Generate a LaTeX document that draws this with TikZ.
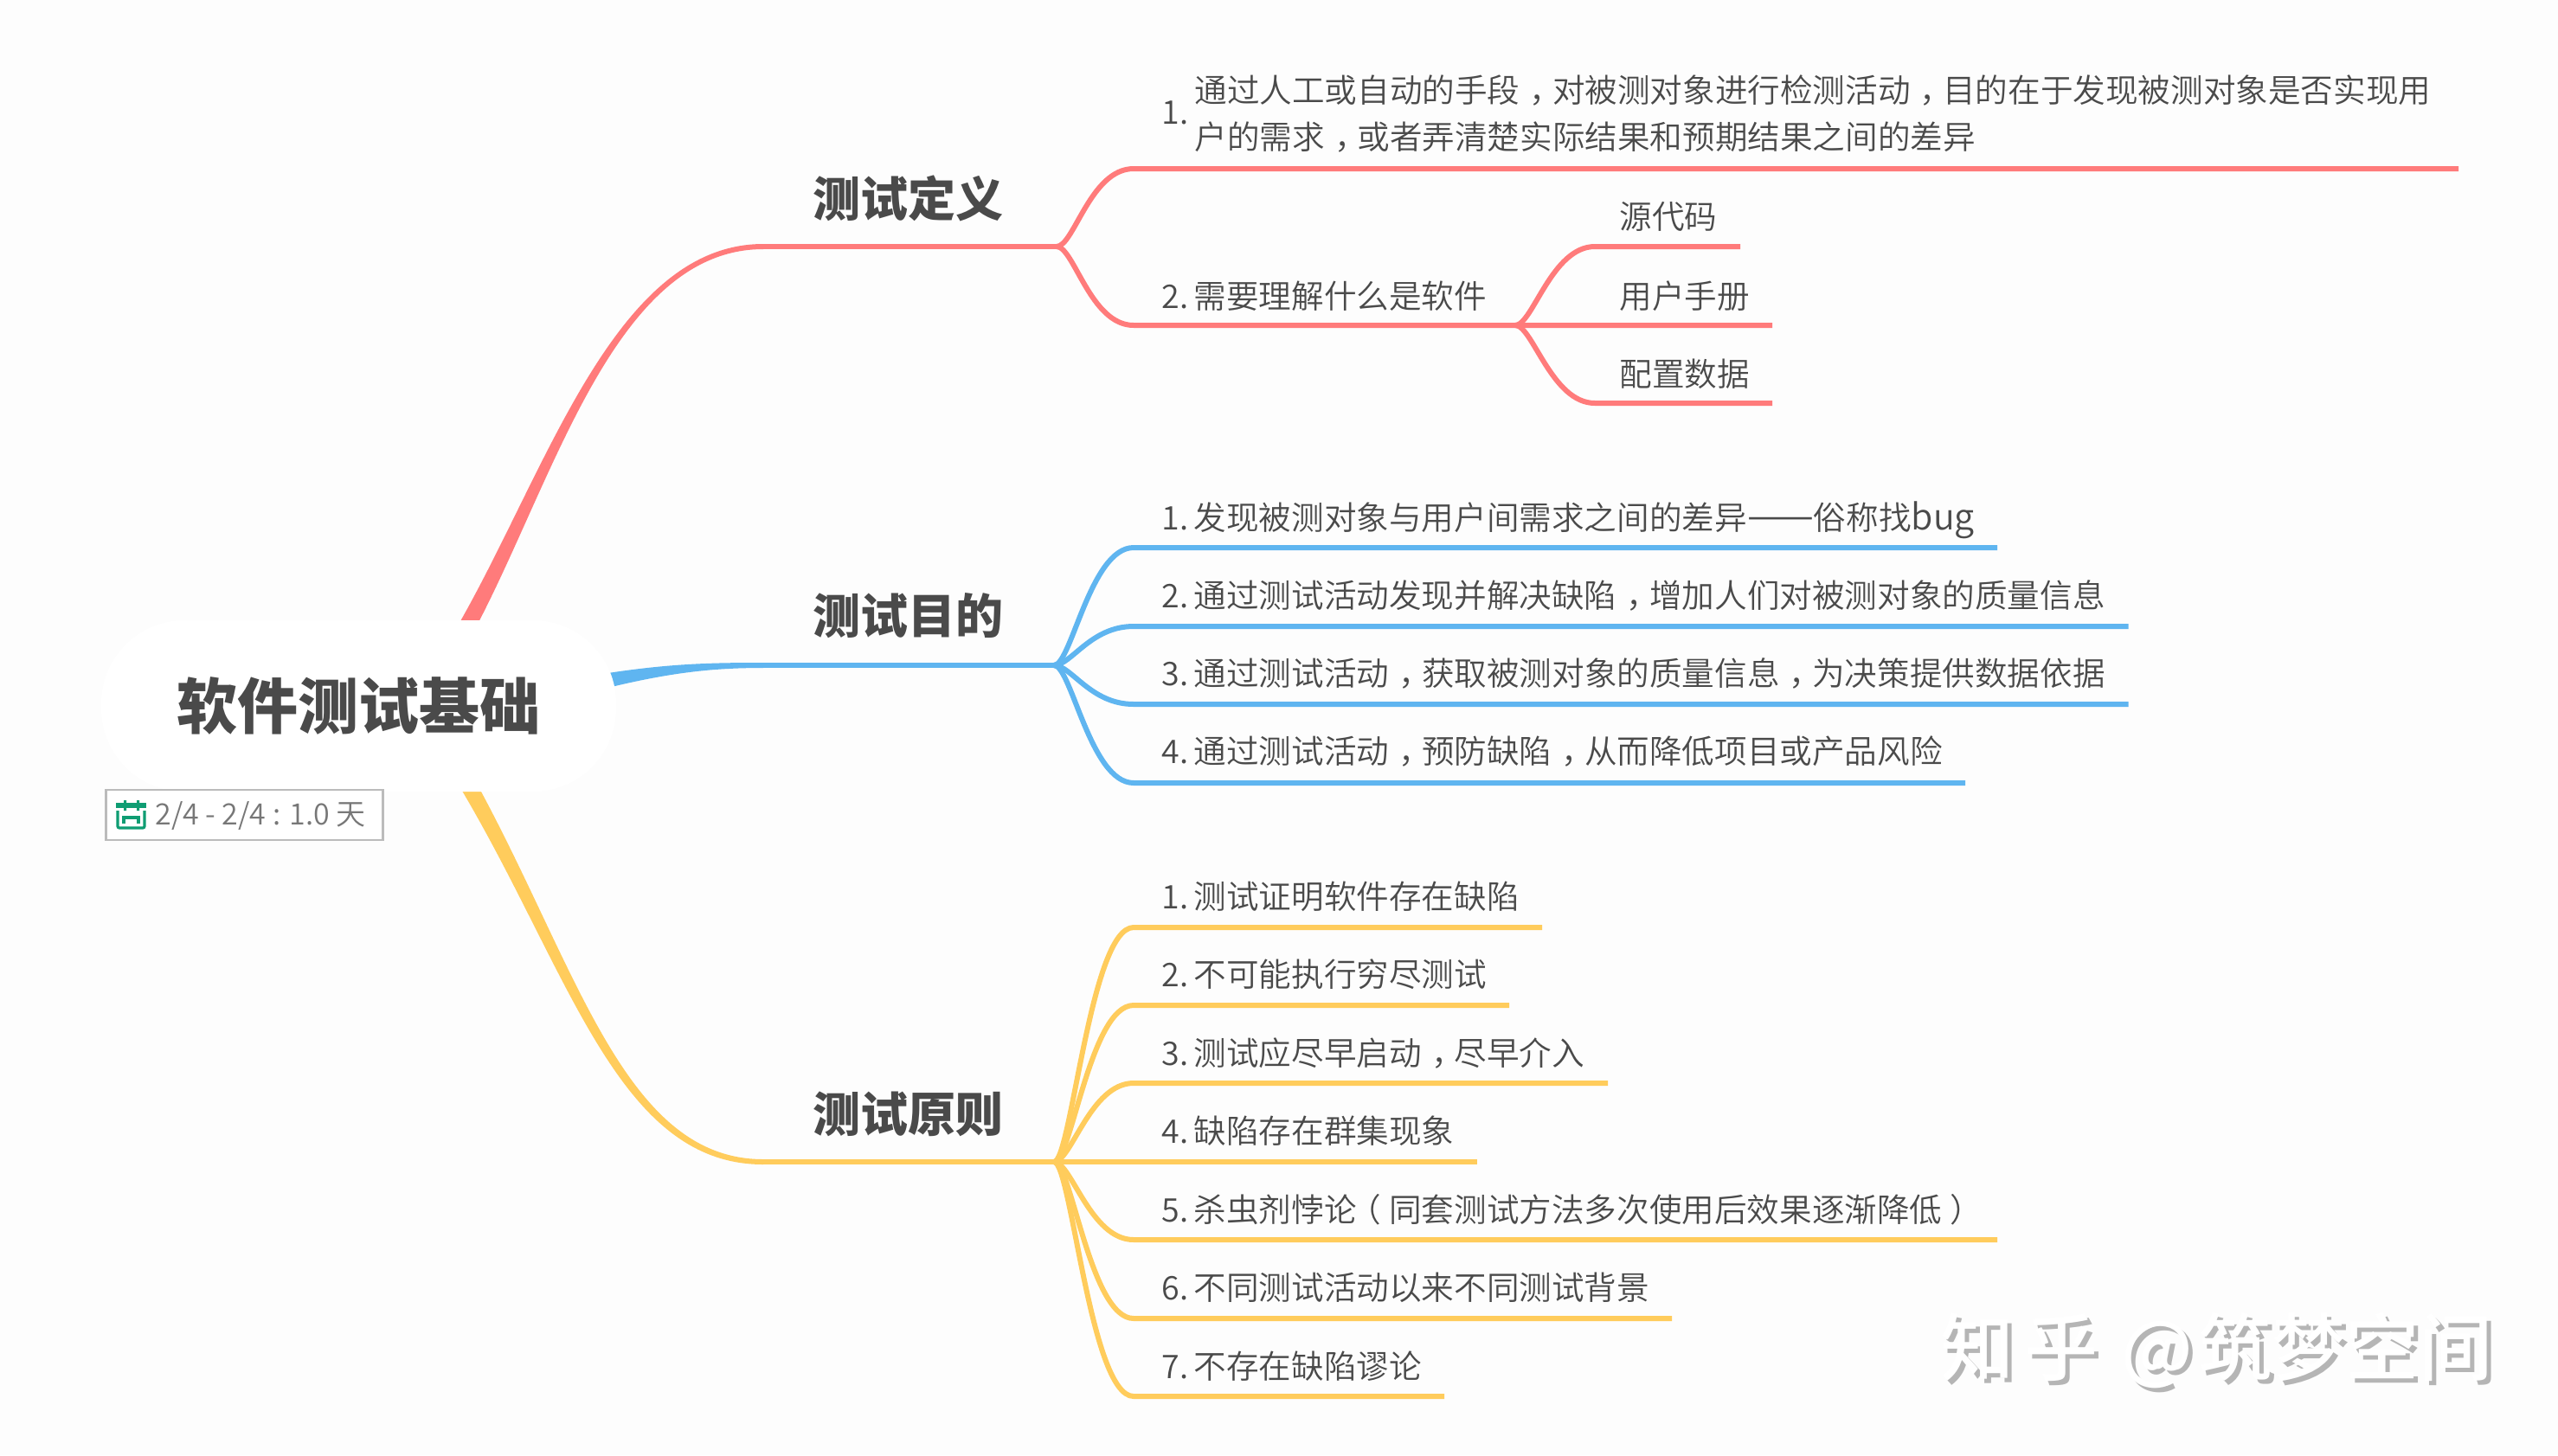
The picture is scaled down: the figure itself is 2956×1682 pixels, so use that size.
\documentclass[tikz,border=0pt]{standalone}
\usepackage{fontspec}
\setmainfont{Noto Sans CJK SC DemiLight}[BoldFont=Noto Sans CJK SC Black]
\newfontfamily\wmfont{Noto Sans CJK SC Medium}
\definecolor{bgc}{HTML}{FDFDFD}
\definecolor{redc}{HTML}{FF7B7B}
\definecolor{bluec}{HTML}{5FB5F0}
\definecolor{yelc}{HTML}{FFCC5C}
\definecolor{txtc}{HTML}{4A4A4A}
\definecolor{grayc}{HTML}{777777}
\definecolor{boxc}{HTML}{BBBBBB}
\definecolor{icoc}{HTML}{0F9D73}
\definecolor{wmc}{HTML}{B5B5B5}
\newcommand{\zhcm}{\makebox[1em][l]{\hspace{.3em}，}}
\newcommand{\zhlp}{\makebox[1em][l]{\hspace{-.25em}（}}
\newcommand{\zhrp}{\makebox[1em][l]{\hspace{.25em}）}}
\newcommand{\nmb}[1]{\makebox[18.7pt][l]{#1}}
% style, hub, name, y, start x, end x
\newcommand{\leafline}[6]{%
  \coordinate (#3s) at (#5,#4);
  \coordinate (#3e) at (#6,#4);
  \draw[#1] (#2) .. controls +(20,0) and +(-50,0) .. (#3s) -- (#3e);}
\tikzset{
  redline/.style={draw=redc,line width=3pt},
  blueline/.style={draw=bluec,line width=3pt},
  yelline/.style={draw=yelc,line width=3pt},
  leaf/.style={anchor=base west,inner sep=0pt,text=txtc,font=\fontsize{18.8}{27}\selectfont},
  head/.style={anchor=base west,inner sep=0pt,text=txtc,font=\fontsize{27.5}{30}\selectfont\bfseries},
  wm/.style={anchor=base west,inner sep=0pt,font=\fontsize{42.5}{50}\selectfont\wmfont}
}
\begin{document}
\begin{tikzpicture}[x=0.5pt,y=-0.5pt]
\useasboundingbox (0,0) rectangle (2956,1682);
\fill[bgc] (0,0) rectangle (2956,1682);
% hubs
\coordinate (hubA) at (1221,285);
\coordinate (hubB) at (1218,769);
\coordinate (hubC) at (1218,1343);
\coordinate (hubD) at (1751,376);
\coordinate (startA) at (882,285);
\coordinate (startB) at (882,769);
\coordinate (startC) at (882,1343);
% main tapered branches
\fill[redc] (528,725) .. controls (632,545) and (710,282) .. (882,282) -- (882,288)
  .. controls (712,288) and (642,550) .. (550,725) -- cycle;
\fill[bluec] (690,780) .. controls (770,767) and (820,766) .. (882,766) -- (882,772)
  .. controls (820,772) and (770,778) .. (690,798) -- cycle;
\fill[yelc] (528,904) .. controls (658,1120) and (712,1346) .. (882,1346) -- (882,1340)
  .. controls (722,1340) and (668,1120) .. (550,904) -- cycle;
\draw[redline] (startA) -- (hubA);
\draw[blueline] (startB) -- (hubB);
\draw[yelline] (startC) -- (hubC);
% root
\node[rectangle,rounded corners=48pt,fill=white,minimum width=297.5pt,minimum height=99pt,inner sep=0pt,
  text=txtc,font=\fontsize{35}{40}\selectfont\bfseries,text height=30.4pt,text depth=4.1pt] (root) at (414.5,816) {软件测试基础};
% red leaves
\leafline{redline}{hubA}{ra}{195}{1310}{2841}
\leafline{redline}{hubA}{rb}{376}{1310}{2048}
\leafline{redline}{hubD}{rc}{285}{1843}{2011}
\leafline{redline}{hubD}{rd}{466}{1843}{2048}
% blue leaves
\leafline{blueline}{hubB}{ba}{633}{1310}{2308}
\leafline{blueline}{hubB}{bb}{724}{1310}{2459.5}
\leafline{blueline}{hubB}{bc}{814}{1310}{2459.5}
\leafline{blueline}{hubB}{bd}{905}{1310}{2271}
% yellow leaves
\leafline{yelline}{hubC}{ya}{1072}{1310}{1782}
\leafline{yelline}{hubC}{yb}{1162}{1310}{1744}
\leafline{yelline}{hubC}{yc}{1252}{1310}{1858}
\leafline{yelline}{hubC}{yd}{1343}{1310}{1707}
\leafline{yelline}{hubC}{ye}{1433}{1310}{2308}
\leafline{yelline}{hubC}{yf}{1524}{1310}{1932}
\leafline{yelline}{hubC}{yg}{1614}{1310}{1669}
% headings
\node[head] (hA) at (939,250) {测试定义};
\node[head] (hB) at (939,732) {测试目的};
\node[head] (hC) at (939,1308) {测试原则};
% texts red
\node[leaf] (tan) at (1342,143) {1.};
\node[leaf,anchor=west,align=left] (ta) at (1380,132) {通过人工或自动的手段\zhcm 对被测对象进行检测活动\zhcm 目的在于发现被测对象是否实现用\\户的需求\zhcm 或者弄清楚实际结果和预期结果之间的差异};
\node[leaf] (tb) at (1342,356) {\nmb{2.}需要理解什么是软件};
\node[leaf] (tc) at (1871,264) {源代码};
\node[leaf] (td) at (1871,356) {用户手册};
\node[leaf] (te) at (1871,446) {配置数据};
% texts blue
\node[leaf] (ua) at (1342,612) {\nmb{1.}发现被测对象与用户间需求之间的差异{\fontsize{23}{27}\selectfont ——}俗称找{\fontsize{20.6}{27}\selectfont bug}};
\node[leaf] (ub) at (1342,702) {\nmb{2.}通过测试活动发现并解决缺陷\zhcm 增加人们对被测对象的质量信息};
\node[leaf] (uc) at (1342,792) {\nmb{3.}通过测试活动\zhcm 获取被测对象的质量信息\zhcm 为决策提供数据依据};
\node[leaf] (ud) at (1342,882) {\nmb{4.}通过测试活动\zhcm 预防缺陷\zhcm 从而降低项目或产品风险};
% texts yellow
\node[leaf] (va) at (1342,1050) {\nmb{1.}测试证明软件存在缺陷};
\node[leaf] (vb) at (1342,1140) {\nmb{2.}不可能执行穷尽测试};
\node[leaf] (vc) at (1342,1231) {\nmb{3.}测试应尽早启动\zhcm 尽早介入};
\node[leaf] (vd) at (1342,1321) {\nmb{4.}缺陷存在群集现象};
\node[leaf] (ve) at (1342,1412) {\nmb{5.}杀虫剂悖论\zhlp 同套测试方法多次使用后效果逐渐降低\zhrp};
\node[leaf] (vf) at (1342,1502) {\nmb{6.}不同测试活动以来不同测试背景};
\node[leaf] (vg) at (1342,1593) {\nmb{7.}不存在缺陷谬论};
% date box
\node[draw=boxc,line width=1.2pt,fill=white,minimum width=160pt,minimum height=29pt,inner sep=0pt] (datebox) at (282.5,942) {};
\node[anchor=base west,inner sep=0pt,text=grayc,font=\fontsize{17}{20}\selectfont] (datetxt) at (179,953) {2/4 - 2/4 : 1.0 天};
% calendar icon
\fill[icoc] (134,928) rectangle (169,934);
\fill[icoc] (143,925) rectangle (146,937) (158,925) rectangle (161,937);
\draw[icoc,line width=1.6pt,rounded corners=1pt] (136,937) -- (136,957) -- (167,957) -- (167,937);
\draw[icoc,line width=1.8pt] (143,952) -- (143,945) -- (160,945) -- (160,952);
% watermark
\node[wm,text=wmc] (wmB) at (2247,1594) {知\hspace{6pt}乎\hspace{13.5pt}@\hspace{3pt}筑梦空间};
\node[wm,text=white] (wmA) at (2242,1589) {知\hspace{6pt}乎\hspace{13.5pt}@\hspace{3pt}筑梦空间};
\end{tikzpicture}
\end{document}
